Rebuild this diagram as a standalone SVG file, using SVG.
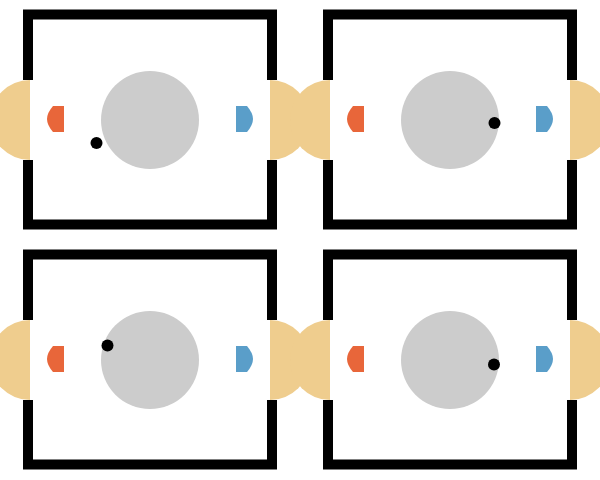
<svg xmlns="http://www.w3.org/2000/svg" width="600" height="480" viewBox="0 0 600 480">
  <defs>
    <style>
      .frame { fill: none; stroke: #000; stroke-width: 10; stroke-linecap: butt; stroke-linejoin: miter; }
      .port { fill: #EFCD8E; }
      .disc { fill: #CCCCCC; }
      .in { fill: #E8663A; }
      .out { fill: #5A9EC9; }
      .dot { fill: #000; }
    </style>
    <g id="panel">
      <path class="frame" d="M28,80 V14.5 H272 V80 M272,160 V224.5 H28 V160"/>
      <path class="port" d="M30,80 A40,40 0 0 0 30,160 Z"/>
      <path class="port" d="M270,80 A40,40 0 0 1 270,160 Z"/>
      <circle class="disc" cx="150" cy="120" r="49"/>
      <path class="in" d="M64,106 H53 Q47,113 47,119 Q47,125 53,132 H64 Z"/>
      <path class="out" d="M236,106 H247 Q253,113 253,119 Q253,125 247,132 H236 Z"/>
    </g>
  </defs>
  <rect width="600" height="480" fill="#fff"/>
  <g id="node-top-left">
    <use href="#panel"/>
    <circle class="dot" cx="96.5" cy="143" r="6"/>
  </g>
  <g id="node-top-right" transform="translate(300,0)">
    <use href="#panel"/>
    <circle class="dot" cx="194.5" cy="123" r="6"/>
  </g>
  <g id="node-bottom-left" transform="translate(0,240)">
    <use href="#panel"/>
    <circle class="dot" cx="107.5" cy="105.5" r="6"/>
  </g>
  <g id="node-bottom-right" transform="translate(300,240)">
    <use href="#panel"/>
    <circle class="dot" cx="194" cy="124.5" r="6"/>
  </g>
  <g id="connectors"></g>
</svg>
